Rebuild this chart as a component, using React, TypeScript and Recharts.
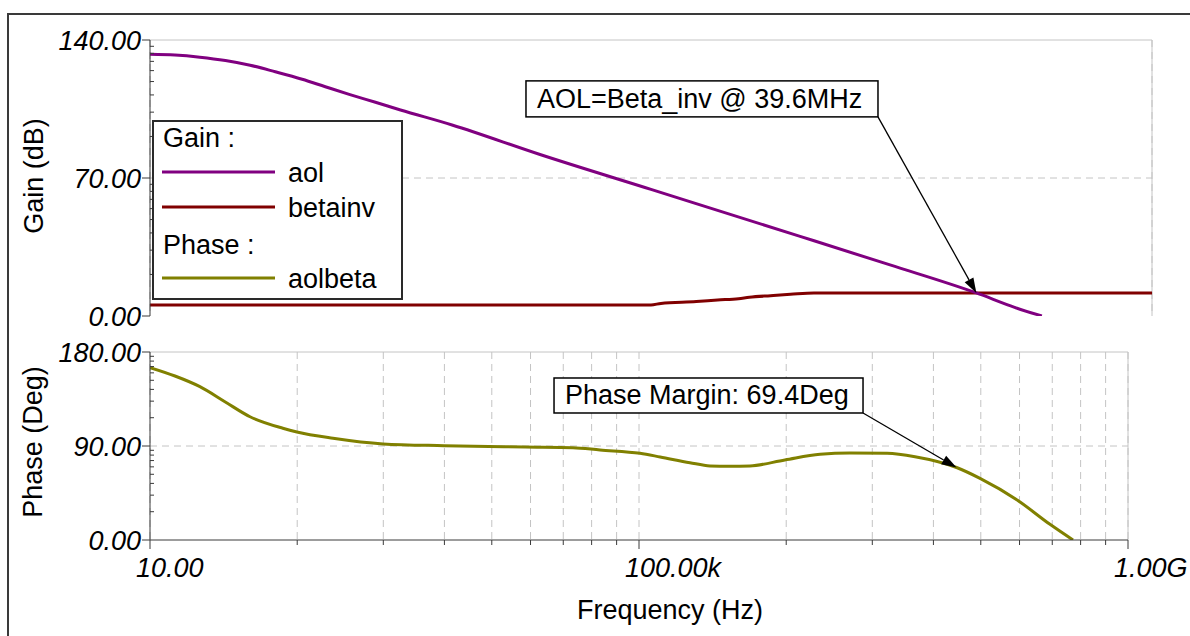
import React from 'react'
import { LineChart, Line, XAxis, YAxis, CartesianGrid, ReferenceLine, Label } from 'recharts'

const FONT = '"Liberation Sans", Arial, Helvetica, sans-serif'

// frequency axis (Hz, log)
const freqMajor = [10, 1e5, 1e9]
const freqLabels = ['10.00', '100.00k', '1.00G']
const freqMinor = [160, 810, 2560, 6250, 12960, 24010, 40960, 65610, 1.6e6, 8.1e6, 2.56e7, 6.25e7, 1.296e8, 2.401e8, 4.096e8, 6.561e8]

// gain axis (dB)
const gainMajor = [0, 70, 140]
const gainLabels = ['0.00', '70.00', '140.00']
const gainMinor = [21.07, 33.4, 42.14, 48.93, 54.47, 59.16, 63.22, 66.8, 91.07, 103.4, 112.14, 118.93, 124.47, 129.16, 133.22, 136.8]

// phase axis (deg)
const phaseMajor = [0, 90, 180]
const phaseLabels = ['0.00', '90.00', '180.00']
const phaseMinor = [27.09, 42.94, 54.19, 62.91, 70.04, 76.06, 81.28, 85.88, 117.09, 132.94, 144.19, 152.91, 160.04, 166.06, 171.28, 175.88]

// aol
const aolFreq = [10, 15.8, 25, 40, 63, 100, 164, 251, 395, 631, 1000, 2580, 13000, 1e5, 1.55e6, 8.1e6, 39.6e6, 80e6, 132e6]
const aolGain = [132.8, 132.4, 131.3, 129.6, 127.2, 123.9, 120.1, 116.3, 112.3, 108.4, 104.5, 96.9, 81.9, 64.2, 40.4, 25.9, 11.7, 4.4, 0]

// betainv
const betaFreq = [10, 1e5, 1.2e5, 2.3e5, 3.4e5, 5e5, 6.1e5, 9e5, 1.3e6, 2e6, 1e9]
const betaGain = [5.6, 5.6, 6.4, 7.3, 8.1, 8.8, 9.5, 10.3, 11.0, 11.7, 11.7]

// aolbeta phase
const phaseFreq = [10, 16, 25.6, 41, 65.8, 122, 159, 314, 805, 2540, 11700, 28800, 48000, 102000, 149000, 261000, 381000, 550000, 809000, 1.56e6, 3.03e6, 5.3e6, 10.7e6, 18.1e6, 39.6e6, 61.6e6, 124e6, 230e6, 355e6]
const phaseDeg = [165, 157, 146.8, 132.4, 118, 107, 103.4, 97.4, 92, 90.3, 89, 88.4, 86.2, 83, 79.5, 74, 70.9, 70.5, 70.9, 76.6, 82, 83.2, 83, 79.8, 69.4, 59, 38.3, 15, 0]

const zip = (f: number[], v: number[]) => f.map((x, i) => ({ f: x, v: v[i] }))
const aolData = zip(aolFreq, aolGain)
const betaData = zip(betaFreq, betaGain)
const phaseData = zip(phaseFreq, phaseDeg)

const sortNum = (a: number[]) => [...a].sort((p, q) => p - q)
const freqTicks = sortNum([...freqMajor, ...freqMinor])
const gainTicks = sortNum([...gainMajor, ...gainMinor])
const phaseTicks = sortNum([...phaseMajor, ...phaseMinor])

const GRID = '#c4c4c4'
const AXIS = '#3a3a3a'

function YTick(props: any) {
  const { x, y, payload, majors, labels } = props
  const i = majors.indexOf(payload.value)
  if (i < 0) return <line x1={x} x2={x + 4} y1={y} y2={y} stroke={AXIS} strokeWidth={1} />
  return (
    <g>
      <line x1={x - 8} x2={x} y1={y} y2={y} stroke={AXIS} strokeWidth={1} />
      <text x={x - 9} y={y} dy="0.36em" textAnchor="end" fontStyle="italic" fontSize={27} fontFamily={FONT} fill="#000">
        {labels[i]}
      </text>
    </g>
  )
}

function XTick(props: any) {
  const { x, y, payload } = props
  const i = freqMajor.indexOf(payload.value)
  if (i < 0) return <line x1={x} x2={x} y1={y} y2={y + 5} stroke={AXIS} strokeWidth={1} />
  return (
    <g>
      <line x1={x} x2={x} y1={y} y2={y + 9} stroke={AXIS} strokeWidth={1} />
      <text x={x - 14} y={y + 37} textAnchor="start" fontStyle="italic" fontSize={27} fontFamily={FONT} fill="#000">
        {freqLabels[i]}
      </text>
    </g>
  )
}

function Callout(props: any) {
  const { x1, y1, x2, y2, text, boxW, boxH } = props
  const dx = x2 - x1
  const dy = y2 - y1
  const len = Math.sqrt(dx * dx + dy * dy)
  const ux = dx / len
  const uy = dy / len
  const bx = x2 - ux * 15
  const by = y2 - uy * 15
  const head = `${x2},${y2} ${bx - uy * 5},${by + ux * 5} ${bx + uy * 5},${by - ux * 5}`
  return (
    <g>
      <line x1={x1} y1={y1} x2={bx} y2={by} stroke="#000" strokeWidth={1.3} />
      <polygon points={head} fill="#000" />
      <rect x={x1 - boxW} y={y1 - boxH} width={boxW} height={boxH} fill="#fff" stroke="#000" strokeWidth={1.5} />
      <text x={x1 - boxW + 11} y={y1 - 9} fontSize={27} fontFamily={FONT} fill="#000">
        {text}
      </text>
    </g>
  )
}

const axisTitle = (text: string, x: number, y: number) => () => (
  <text x={x} y={y} transform={`rotate(-90 ${x} ${y})`} textAnchor="middle" fontSize={27} fontFamily={FONT} fill="#000">
    {text}
  </text>
)

const legendItems = [
  { head: 'Gain :' },
  { name: 'aol', color: '#800080' },
  { name: 'betainv', color: '#800000' },
  { head: 'Phase :' },
  { name: 'aolbeta', color: '#808000' },
]
const legendBase = [27, 62, 97, 134, 168]

function GainPhaseLegend() {
  return (
    <svg width={251} height={180} style={{ position: 'absolute', left: 152, top: 120 }}>
      <rect x={1} y={1} width={249} height={178} fill="#fff" stroke="#2a2a2a" strokeWidth={2} />
      {legendItems.map((it, i) =>
        it.head ? (
          <text key={i} x={11} y={legendBase[i]} fontSize={27} fontFamily={FONT} fill="#000">{it.head}</text>
        ) : (
          <g key={i}>
            <line x1={10} x2={123} y1={legendBase[i] - 10} y2={legendBase[i] - 10} stroke={it.color} strokeWidth={3} />
            <text x={136} y={legendBase[i]} fontSize={27} fontFamily={FONT} fill="#000">{it.name}</text>
          </g>
        )
      )}
    </svg>
  )
}

export default function App() {
  return (
    <div style={{ position: 'absolute', left: 0, top: 0, width: 1190, height: 636, overflow: 'hidden', background: '#fff' }}>
      <div style={{ position: 'absolute', left: 7, top: 13, width: 1400, height: 800, borderLeft: `2px solid ${AXIS}`, borderTop: `2px solid ${AXIS}` }} />

      <div style={{ position: 'absolute', left: 0, top: 0 }}>
        <LineChart width={1190} height={345} margin={{ top: 40, right: 38, bottom: 29, left: 0 }}>
          <CartesianGrid horizontal={false} stroke={GRID} strokeDasharray="7 5" />
          <XAxis
            type="number"
            dataKey="f"
            scale="log"
            domain={[10, 1e9]}
            ticks={freqTicks}
            interval={0}
            allowDataOverflow
            height={0}
            tick={false}
            tickLine={false}
            axisLine={{ stroke: AXIS }}
          />
          <YAxis
            type="number"
            domain={[0, 140]}
            ticks={gainTicks}
            interval={0}
            allowDataOverflow
            width={150}
            tickSize={0}
            tickMargin={0}
            tickLine={false}
            axisLine={{ stroke: AXIS }}
            tick={<YTick majors={gainMajor} labels={gainLabels} />}
          >
            <Label content={axisTitle('Gain (dB)', 43, 176)} />
          </YAxis>
          <ReferenceLine y={70} stroke={GRID} strokeDasharray="7 5" />
          <ReferenceLine y={140} stroke={GRID} />
          <ReferenceLine x={1e9} stroke={GRID} />
          <Line data={betaData} dataKey="v" type="monotone" stroke="#800000" strokeWidth={3} dot={false} isAnimationActive={false} />
          <Line data={aolData} dataKey="v" type="monotone" stroke="#800080" strokeWidth={3} dot={false} isAnimationActive={false} />
          <ReferenceLine
            segment={[{ x: 6.49e6, y: 101 }, { x: 39.6e6, y: 11.7 }]}
            shape={(p: any) => <Callout {...p} text="AOL=Beta_inv @ 39.6MHz" boxW={352} boxH={36} />}
          />
        </LineChart>
      </div>

      <div style={{ position: 'absolute', left: 0, top: 330 }}>
        <LineChart width={1190} height={306} margin={{ top: 22, right: 62, bottom: 0, left: 0 }}>
          <CartesianGrid horizontal={false} stroke={GRID} strokeDasharray="7 5" />
          <XAxis
            type="number"
            dataKey="f"
            scale="log"
            domain={[10, 1e9]}
            ticks={freqTicks}
            interval={0}
            allowDataOverflow
            height={96}
            tickSize={0}
            tickMargin={0}
            tickLine={false}
            axisLine={{ stroke: AXIS }}
            tick={<XTick />}
          >
            <Label
              content={() => (
                <text x={670} y={289} textAnchor="middle" fontSize={27} fontFamily={FONT} fill="#000">
                  Frequency (Hz)
                </text>
              )}
            />
          </XAxis>
          <YAxis
            type="number"
            domain={[0, 180]}
            ticks={phaseTicks}
            interval={0}
            allowDataOverflow
            width={150}
            tickSize={0}
            tickMargin={0}
            tickLine={false}
            axisLine={{ stroke: AXIS }}
            tick={<YTick majors={phaseMajor} labels={phaseLabels} />}
          >
            <Label content={axisTitle('Phase (Deg)', 42, 112)} />
          </YAxis>
          <ReferenceLine y={90} stroke={GRID} strokeDasharray="7 5" />
          <ReferenceLine y={180} stroke={GRID} />
          <ReferenceLine x={1e9} stroke={GRID} />
          <Line data={phaseData} dataKey="v" type="monotone" stroke="#808000" strokeWidth={3} dot={false} isAnimationActive={false} />
          <ReferenceLine
            segment={[{ x: 6.8e6, y: 121.6 }, { x: 39.6e6, y: 69.4 }]}
            shape={(p: any) => <Callout {...p} text="Phase Margin: 69.4Deg" boxW={309} boxH={35} />}
          />
        </LineChart>
      </div>

      <GainPhaseLegend />
    </div>
  )
}
